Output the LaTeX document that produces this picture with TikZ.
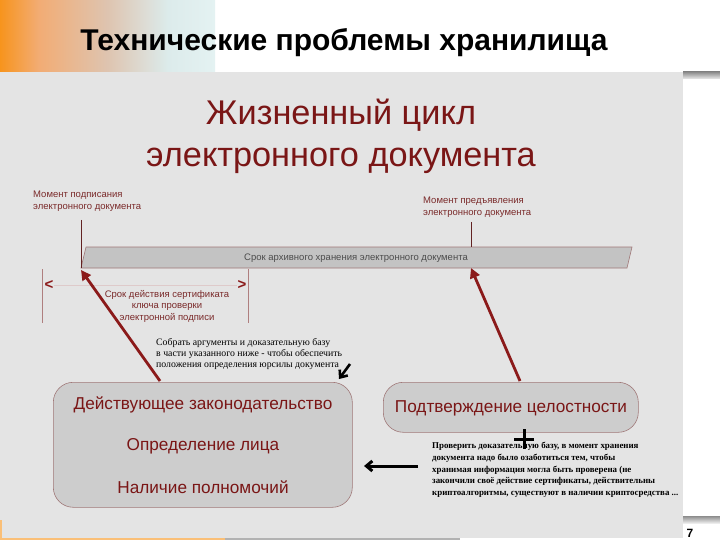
\documentclass[tikz,border=0pt]{standalone}
\usepackage{fontspec}
\setmainfont{Liberation Sans}
\newfontfamily\serifrm{Liberation Serif}
\usetikzlibrary{arrows.meta,calc}
\definecolor{slidegray}{HTML}{E4E4E4}
\definecolor{boxgray}{HTML}{CDCDCD}
\definecolor{boxedge}{HTML}{A07878}
\definecolor{darkred}{HTML}{7A1616}
\definecolor{arrowred}{HTML}{8B1A1A}
\definecolor{annored}{HTML}{7A2A2A}
\definecolor{hdrorange}{HTML}{F7941D}
\definecolor{hdrpeach}{HTML}{F2AC74}
\definecolor{hdrbeige}{HTML}{DEC4B0}
\definecolor{hdrcyan}{HTML}{DCEBEB}
\definecolor{hdrend}{HTML}{E4F2F2}
\pgfdeclarehorizontalshading{hdrshade}{100bp}{color(0bp)=(hdrorange); color(25bp)=(hdrorange); color(34bp)=(hdrpeach); color(50bp)=(hdrbeige); color(64bp)=(hdrcyan); color(75bp)=(hdrend); color(100bp)=(hdrend)}
\tikzset{
  bigbox/.style={draw=boxedge, line width=0.6pt, fill=boxgray, rounded corners=20pt, inner sep=0pt},
  boxtext/.style={text=darkred, font=\fontsize{17.2}{20}\selectfont, inner sep=0pt},
  annot/.style={text=annored, font=\fontsize{9.5}{11.5}\selectfont, inner sep=0pt},
  tick/.style={draw=annored!80!black, line width=0.6pt},
  redarrow/.style={draw=arrowred, line width=2.8pt, -{Triangle[length=10pt,width=10pt]}},
  blackarrow/.style={draw=black, line width=3pt, -{Straight Barb[length=6pt,width=10pt]}},
  notetext/.style={text=black, font=\serifrm\fontsize{9.8}{11}\selectfont, align=left, anchor=north west, inner sep=0pt},
}
\begin{document}
\begin{tikzpicture}[x=1pt,y=-1pt]
\useasboundingbox (0,0) rectangle (720,540);
% header
\fill[white] (0,0) rectangle (720,72);
\shade[shading=hdrshade] (0,0) rectangle (215,72);
\node[font=\bfseries\fontsize{30}{34}\selectfont, inner sep=0pt] (hdr) at (344,43) {Технические проблемы хранилища};
% slide area
\fill[slidegray] (0,72) rectangle (683,538);
\fill[white] (683,72) rectangle (720,540);
\shade[top color=gray!90, bottom color=gray!15] (683,72) rectangle (720,79);
\shade[top color=gray!90, bottom color=gray!15] (683,516) rectangle (720,523);
\node[font=\bfseries\fontsize{12}{14}\selectfont, inner sep=0pt] (pg) at (690,533) {7};
\fill[hdrorange!60] (0,537.5) rectangle (225,540);
\fill[gray!60] (225,537.5) rectangle (460,540);
\fill[hdrorange!60] (0,520) rectangle (2,540);
% big title
\node[text=darkred, font=\fontsize{34.3}{42}\selectfont, align=center, inner sep=0pt] (title) at (341,136) {Жизненный цикл\\электронного документа};
% archive bar
\coordinate (bl) at (81,268);
\coordinate (tl) at (86,247);
\coordinate (tr) at (632,247);
\coordinate (br) at (627,268);
\draw[fill=boxgray!95!black, draw=boxedge, line width=0.6pt] (bl) -- (tl) -- (tr) -- (br) -- cycle;
\node[text=black!70, font=\fontsize{9.5}{10}\selectfont, inner sep=0pt] (bartext) at (356,258) {Срок архивного хранения электронного документа};
% annotations
\node[annot, align=left, anchor=north west] (sign) at (33,191) {Момент подписания\\электронного документа};
\coordinate (signtop) at (81,220);
\draw[tick] (signtop) -- (bl);
\node[annot, align=left, anchor=north west] (present) at (423,197) {Момент предъявления\\электронного документа};
\coordinate (prtop) at (471,222);
\coordinate (prbar) at (471,247);
\draw[tick] (prtop) -- (prbar);
% certificate span
\coordinate (ca) at (42,269);
\coordinate (cb) at (42,323);
\coordinate (cc) at (248,269);
\coordinate (cd) at (248,323);
\draw[tick, draw=annored!60] (ca) -- (cb);
\draw[tick, draw=annored!60] (cc) -- (cd);
\node[text=arrowred, font=\bfseries\fontsize{15}{15}\selectfont, inner sep=0pt] (lt) at (49,285) {<};
\node[text=arrowred, font=\bfseries\fontsize{15}{15}\selectfont, inner sep=0pt] (gt) at (242,285) {>};
\draw[draw=annored!25, line width=0.8pt] (lt) -- (gt);
\node[annot, align=center] (cert) at (167,306) {Срок действия сертификата\\ключа проверки\\электронной подписи};
% note 1
\node[notetext] (note1) at (156,338) {Собрать аргументы и доказательную базу\\в части указанного ниже - чтобы обеспечить\\положения определения юрсилы документа};
% left box
\node[bigbox, minimum width=299pt, minimum height=125pt, anchor=north west] (lbox) at (53,382) {};
\node[boxtext] (l1) at (203,405) {Действующее законодательство};
\node[boxtext] (l2) at (203,446) {Определение лица};
\node[boxtext] (l3) at (203,487) {Наличие полномочий};
% right box
\node[bigbox, minimum width=255pt, minimum height=50pt, anchor=north west] (rbox) at (383,382) {};
\node[boxtext] (r1) at (511,408) {Подтверждение целостности};
% red arrows
\draw[redarrow] ($(lbox.north west)+(107,-1)$) -- ($(bl)+(0,2)$);
\draw[redarrow] ($(rbox.north west)+(137,-1)$) -- ($(prbar)+(0,21)$);
% black marks
\coordinate (a1s) at (350,364);
\coordinate (a1e) at (339,379);
\draw[blackarrow, line width=2.6pt] (a1s) -- (a1e);
\coordinate (plus) at (524,439);
\draw[black, line width=3pt] ($(plus)+(-10,0)$) -- ($(plus)+(10,0)$);
\draw[black, line width=3pt] ($(plus)+(0,-10)$) -- ($(plus)+(0,10)$);
\coordinate (a2s) at (418,466);
\coordinate (a2e) at (364,466);
\draw[blackarrow] (a2s) -- (a2e);
% note 2
\node[notetext, font=\serifrm\bfseries\fontsize{8.9}{11.75}\selectfont] (note2) at (432,442) {Проверить доказательную базу, в момент хранения\\документа надо было озаботиться тем, чтобы\\хранимая информация могла быть проверена (не\\закончили своё действие сертификаты, действительны\\криптоалгоритмы, существуют в наличии криптосредства ...};
\end{tikzpicture}
\end{document}
